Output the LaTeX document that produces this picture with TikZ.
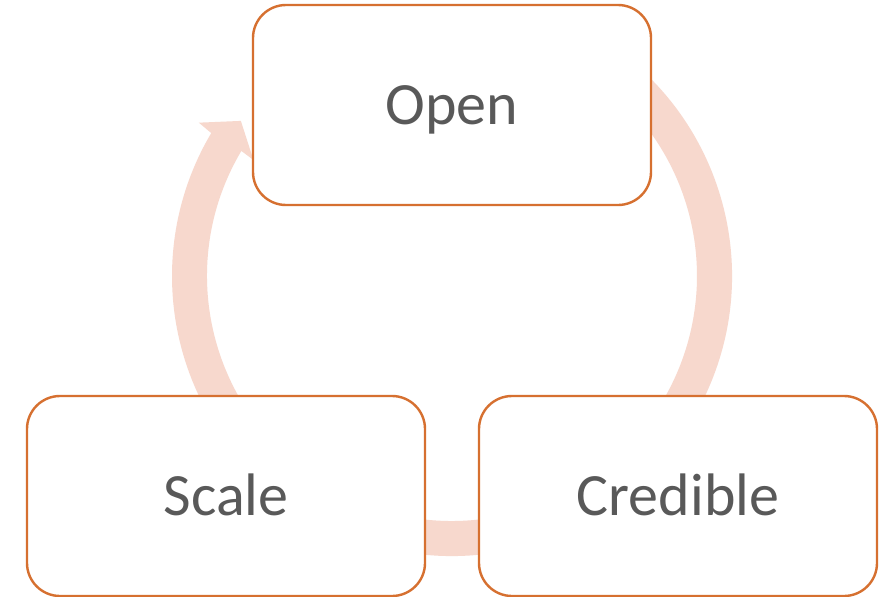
\documentclass[tikz,border=0pt]{standalone}
\usepackage{fontspec}
\setmainfont{Carlito}
\definecolor{boxline}{RGB}{214,112,48}
\definecolor{ringfill}{RGB}{247,216,205}
\definecolor{labeltext}{RGB}{89,89,89}
\begin{document}
\begin{tikzpicture}[x=1pt,y=-1pt,
  stage/.style={draw=boxline, line width=2.4pt, fill=white,
    rounded corners=33pt, minimum width=398pt, minimum height=200pt,
    inner sep=0pt, text=labeltext, font=\fontsize{60}{72}\selectfont,
    text height=38.6pt, text depth=0pt}]
\useasboundingbox (0,0) rectangle (887,597);
\fill[white] (0,0) rectangle (887,597);

% circular arrow running clockwise behind the three stages
\begin{scope}[shift={(452,276)}]
  \fill[ringfill]
    (-65:280) arc[start angle=-65, end angle=210.7, radius=280]
    -- (211.2:296) -- (216.3:262) -- (210.3:230)
    -- (210.7:245) arc[start angle=210.7, end angle=-65, radius=245]
    -- cycle;
\end{scope}

\node[stage] (open) at (452,105) {Open};
\node[stage] (credible) at (678,496) {Credible};
\node[stage] (scale) at (226,496) {Scale};
\end{tikzpicture}
\end{document}
